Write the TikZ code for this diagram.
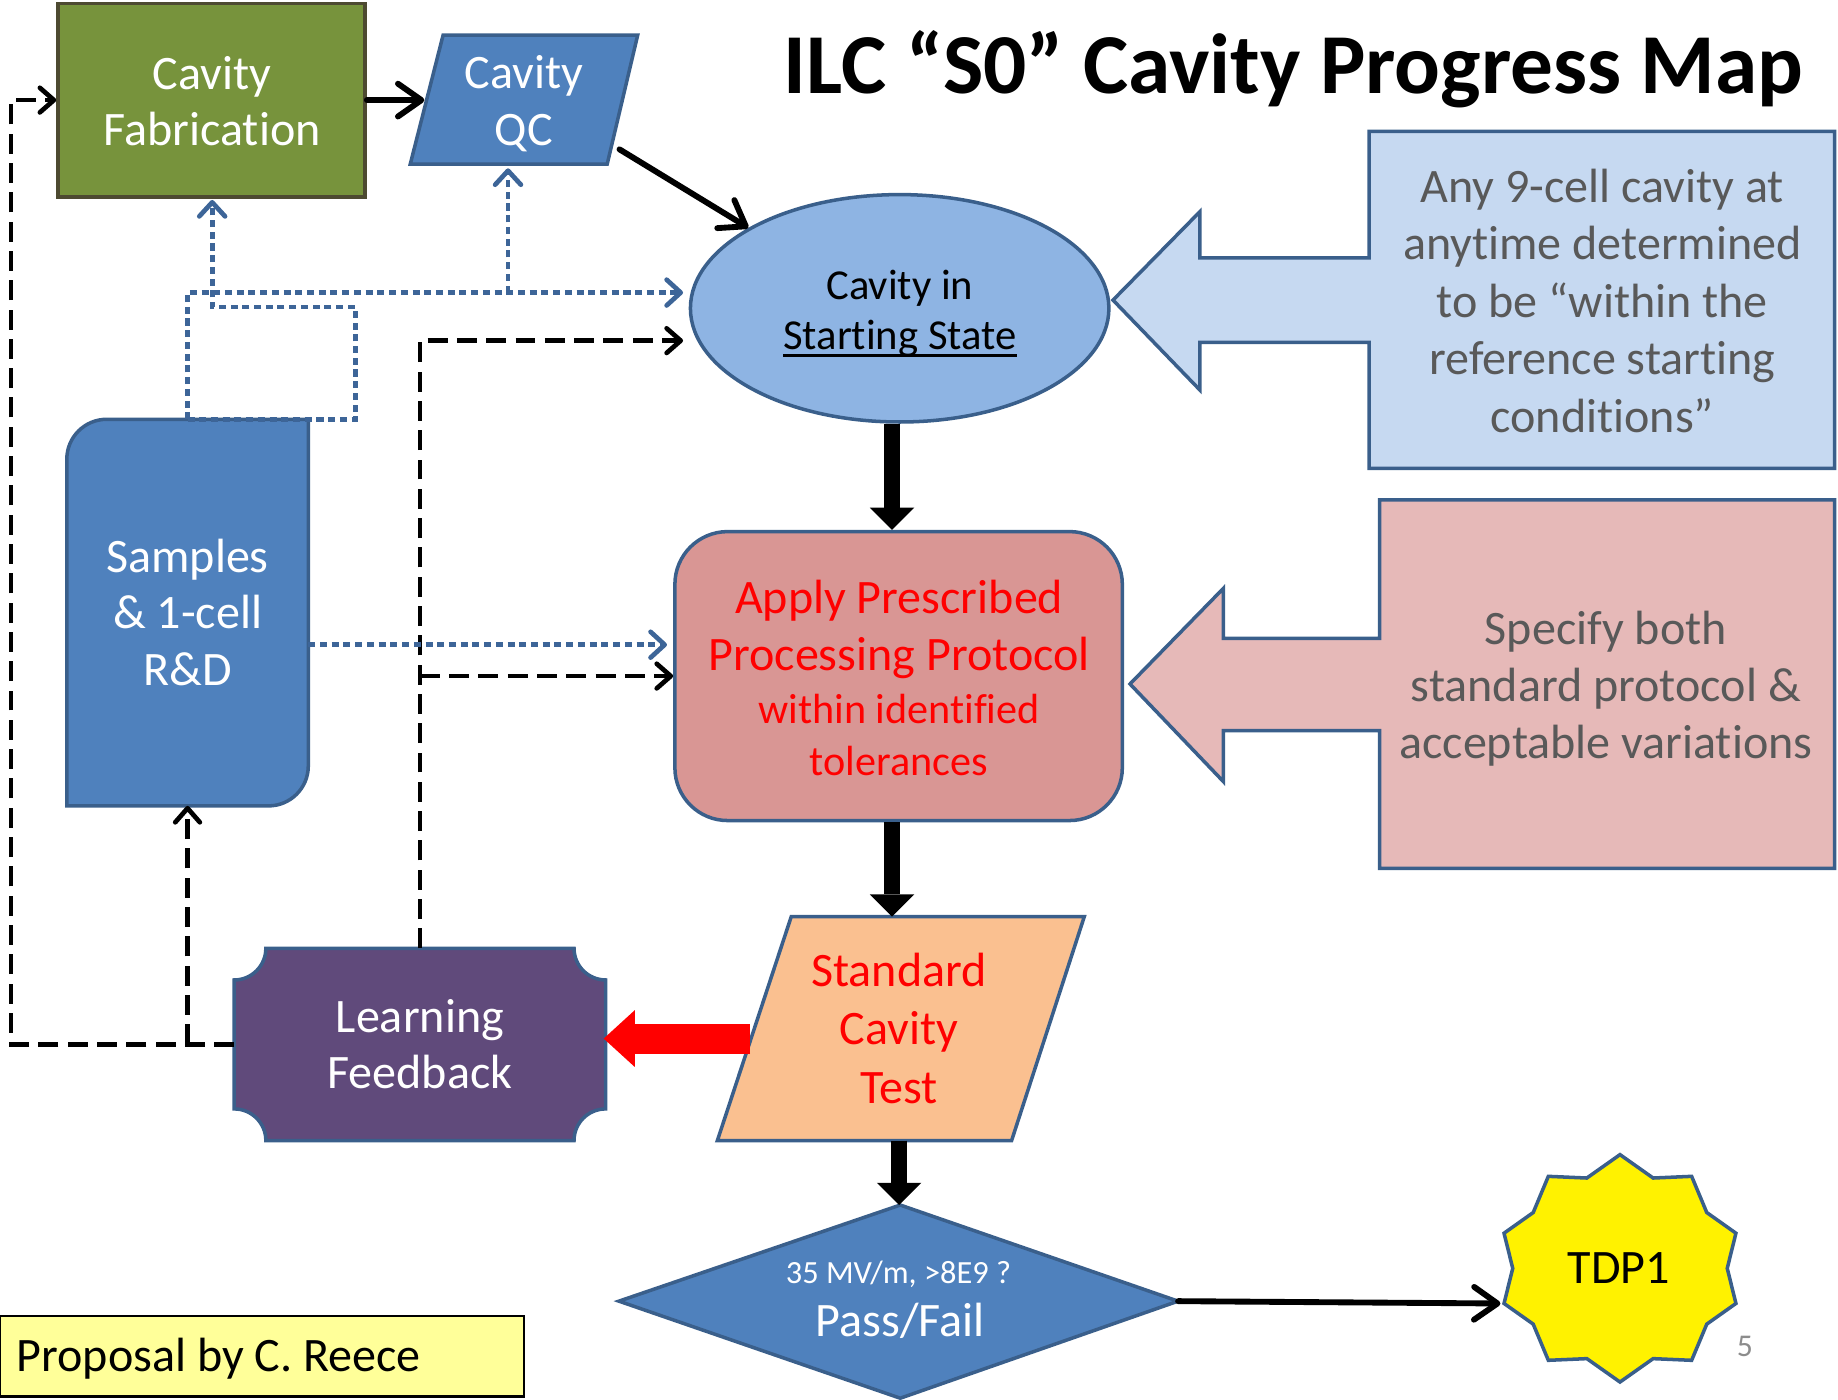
\documentclass[tikz,border=0pt]{standalone}
\usepackage{fontspec}
\setmainfont{Carlito}[Ligatures=NoCommon]
\usetikzlibrary{arrows.meta,shapes.geometric}
\definecolor{olivefill}{HTML}{77933C}
\definecolor{olivedark}{HTML}{4D4A31}
\definecolor{bluefill}{HTML}{4F81BD}
\definecolor{blueedge}{HTML}{3A5F8B}
\definecolor{dotblue}{HTML}{3D6598}
\definecolor{ellfill}{HTML}{8EB4E3}
\definecolor{calblue}{HTML}{C6D9F1}
\definecolor{applyfill}{HTML}{D99694}
\definecolor{calpink}{HTML}{E6B9B8}
\definecolor{testfill}{HTML}{FAC090}
\definecolor{learnfill}{HTML}{604A7B}
\definecolor{propfill}{HTML}{FFFF99}
\definecolor{greytext}{HTML}{595959}
\definecolor{pagegrey}{HTML}{8C8C8C}
\newcommand\myfs[2]{\fontsize{#1}{#2}\selectfont}
\newsavebox\ulbox
\newcommand\myul[1]{\sbox\ulbox{#1}\rlap{\rule[-6.5pt]{\wd\ulbox}{2.6pt}}\usebox\ulbox}
\begin{document}
\begin{tikzpicture}[x=1pt,y=1pt,
  shp/.style={line width=3pt, draw=blueedge},
  lbl/.style={inner sep=0pt, align=center},
  thk/.style={line width=5pt, line cap=round, -{Straight Barb[length=20pt,width=28pt,round]}},
  fat/.style={line width=14pt, -{Triangle[length=19pt,width=38pt,line width=0pt]}},
  blkdash/.style={line width=4pt, dash pattern=on 17pt off 8pt, -{Straight Barb[length=12pt,width=21pt,round]}},
  bludot/.style={line width=4pt, draw=dotblue, dash pattern=on 6pt off 4pt, -{Straight Barb[length=12pt,width=22pt,round]}},
]
\useasboundingbox (0,0) rectangle (1568,-1194.3);

% ---------- shapes ----------
\node[shp, draw=olivedark, fill=olivefill, minimum width=262pt, minimum height=165pt, inner sep=0pt] (fab) at (180.5,-85.4) {};
\path[shp, fill=bluefill] (378,-30) -- (544,-30) -- (518,-140) -- (350,-140) -- cycle;
\node[shp, ellipse, fill=ellfill, minimum width=357pt, minimum height=194pt, inner sep=0pt] (start) at (767.5,-263) {};
\path[shp, fill=calblue] (1168,-112) -- (1565,-112) -- (1565,-399.5) -- (1168,-399.5) -- (1168,-292) -- (1023.6,-292) -- (1023.6,-332.7) -- (949.5,-256) -- (1023.6,-180.6) -- (1023.6,-220) -- (1168,-220) -- cycle;
\node[shp, rounded corners=45pt, fill=applyfill, minimum width=381.7pt, minimum height=246.5pt, inner sep=0pt] (apply) at (766.6,-576.75) {};
\path[shp, fill=calpink] (1177,-426.5) -- (1565,-426.5) -- (1565,-740.7) -- (1177,-740.7) -- (1177,-623.3) -- (1043.7,-623.3) -- (1043.7,-666.8) -- (964,-583.5) -- (1043.7,-501.9) -- (1043.7,-544.5) -- (1177,-544.5) -- cycle;
\path[shp, fill=testfill] (675,-782) -- (925,-782) -- (863,-973) -- (612,-973) -- cycle;
\path[shp, fill=bluefill] (528,-1110) -- (768,-1028) -- (1005,-1110) -- (768,-1192.8) -- cycle;
\path[shp, fill=yellow] plot[samples at={0,1,...,19}, variable=\k] ({1382+ifthenelse(mod(\k,2)==0,104,91.5)*sin(18*\k)}, {-1082+ifthenelse(mod(\k,2)==0,97,81)*cos(18*\k)}) -- cycle;
\path[shp, fill=bluefill] (57,-687.5) -- (57,-391.7) arc[start angle=180, end angle=90, radius=34pt] -- (263,-357.7) -- (263,-653.5) arc[start angle=0, end angle=-90, radius=34pt] -- cycle;
\path[shp, fill=learnfill] (226.8,-809) -- (489.7,-809) arc[start angle=180, end angle=270, radius=27pt] -- (516.7,-946) arc[start angle=90, end angle=180, radius=27pt] -- (226.8,-973) arc[start angle=0, end angle=90, radius=27pt] -- (199.8,-836) arc[start angle=270, end angle=360, radius=27pt] -- cycle;
\node[draw=black, line width=2pt, fill=propfill, minimum width=447pt, minimum height=68.8pt, inner sep=0pt] (prop) at (223.5,-1157) {};

% ---------- connection points ----------
\coordinate (qcL) at (362,-85.4);
\coordinate (qcR) at (528.5,-127.4);
\coordinate (qcB) at (433.4,-143.6);
\coordinate (fabB) at (181,-170.6);
\coordinate (xa) at (761,0);
\coordinate (testT) at (761,-782);
\coordinate (testB) at (767,-973);
\coordinate (testL) at (640,-886);
\coordinate (diaN) at (767,-1028);
\coordinate (diaE) at (1005,-1110);
\coordinate (tdpW) at (1280,-1112);
\coordinate (learnW) at (199.8,-890.8);
\coordinate (learnN) at (358.2,-809);
\coordinate (learnE) at (515,-886);
\coordinate (sampS) at (160,-687.5);
\coordinate (sampN) at (160,-357.7);
\coordinate (sampE) at (263,-550);
\coordinate (lx) at (9.5,-890.8);
\coordinate (startW1) at (582.7,-249.6);
\coordinate (startW2) at (582.7,-290.6);
\coordinate (applyW1) at (569,-550);
\coordinate (loopR) at (303.5,-262);

% ---------- connectors ----------
\draw[thk] (fab.east) -- (qcL);
\draw[thk] (qcR) -- (start.152);
\draw[fat] (start.south -| xa) -- (apply.north -| xa);
\draw[fat] (apply.south -| xa) -- (testT);
\draw[fat] (testB) -- (diaN);
\draw[thk] (diaE) -- (tdpW);
\draw[red, line width=25.5pt, -{Triangle[length=26.5pt,width=48.4pt,line width=0pt]}] (testL) -- (learnE);
\draw[blkdash] (learnW) -- (lx) |- (fab.west);
\draw[blkdash] (sampS |- learnW) -- (sampS);
\draw[blkdash] (learnN) |- (startW2);
\draw[blkdash] (learnN |- apply.west) -- (apply.west);
\draw[bludot] (sampE) -- (applyW1);
\draw[bludot] (sampN) |- (startW1);
\draw[bludot] (qcB |- startW1) -- (qcB);
\draw[bludot] (sampN) -- (sampN -| loopR) -- (loopR) -| (fabB);

% ---------- texts ----------
\node[lbl, text=white, font=\myfs{41}{48}] (fabtxt) at (181,-86) {Cavity\\Fabrication};
\node[lbl, text=white, font=\myfs{41}{48}] (qctxt) at (447,-88.5) {Cavity\\QC};
\node[lbl, font=\myfs{36.4}{43}] (starttxt) at (767.7,-267.5) {Cavity in\\\myul{Starting State}};
\node[lbl, text=greytext, font=\myfs{41}{49}] (caltxt) at (1367,-256.5) {Any 9-cell cavity at\\anytime determined\\to be “within the\\reference starting\\conditions”};
\node[lbl, text=red, font=\myfs{41}{48}] (applytxt) at (767,-578.5) {Apply Prescribed\\Processing Protocol\\[-2pt]{\myfs{36}{48}within identified}\\[-4pt]{\myfs{36}{48}tolerances}};
\node[lbl, text=greytext, font=\myfs{41}{49}] (spectxt) at (1370,-587.5) {Specify both\\standard protocol \&\\acceptable variations};
\node[lbl, text=white, font=\myfs{41}{48}] (samptxt) at (160,-522.3) {Samples\\\& 1-cell\\R\&D};
\node[lbl, text=red, font=\myfs{41}{50}] (testtxt) at (767,-877.2) {Standard\\Cavity\\Test};
\node[lbl, text=white, font=\myfs{41}{48}] (learntxt) at (358.2,-890.5) {Learning\\Feedback};
\node[inner sep=0pt, anchor=base, text=white, font=\myfs{27.6}{30}] (diaq) at (766.5,-1094.7) {35 MV/m, >8E9 ?};
\node[inner sep=0pt, anchor=base, text=white, font=\myfs{41}{45}] (diapf) at (768,-1140) {Pass/Fail};
\node[lbl, font=\myfs{41}{45}] (tdp) at (1381,-1082) {TDP1};
\node[inner sep=0pt, anchor=base west, font=\myfs{41}{45}] (proptxt) at (14,-1170) {Proposal by C. Reece};
\node[inner sep=0pt, anchor=base, font=\bfseries\myfs{72.8}{80}] (title) at (1103.5,-79.6) {ILC “S0” Cavity Progress Map};
\node[inner sep=0pt, anchor=base, text=pagegrey, font=\myfs{27}{30}] (pnum) at (1488.5,-1157) {5};
\end{tikzpicture}
\end{document}
